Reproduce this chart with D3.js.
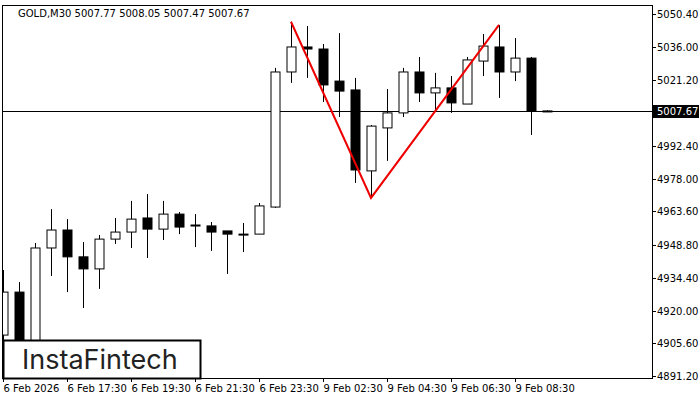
<!DOCTYPE html><html><head><meta charset="utf-8"><script src="https://cdn.jsdelivr.net/npm/d3@7"></script>
<style>body{margin:0;background:#fff}</style></head><body><svg id="c" width="700" height="400"></svg><script>
const opens =[4909.2,4928.1,4893.8,4947.5,4955.4,4943.6,4938.3,4951.4,4954.5,4960.7,4955.8,4962.4,4957.6,4957.2,4955.0,4953.6,4953.6,4965.5,5024.9,5035.9,5035.0,5020.9,5017.0,4981.4,5000.3,5006.9,5024.9,5015.7,5017.9,5010.8,5029.7,5035.9,5024.9,5031.0,5007.77];
const highs =[4937.8,4932.5,4949.7,4964.6,4960.2,4950.1,4953.2,4960.7,4968.2,4971.2,4968.2,4963.3,4962.4,4958.9,4955.0,4958.5,4967.3,5026.7,5047.0,5045.1,5037.2,5042.0,5022.3,5001.6,5017.4,5026.7,5031.5,5024.5,5023.1,5031.5,5041.6,5045.6,5039.8,5031.5,5008.05];
const lows  =[4907.0,4890.3,4890.3,4935.2,4928.1,4921.1,4929.5,4949.3,4947.5,4943.1,4951.0,4953.6,4947.9,4946.2,4936.1,4945.7,4953.6,4965.1,5020.1,5022.3,5011.7,5005.1,4976.1,4969.5,4985.8,5005.1,5011.7,5008.2,5006.9,5010.8,5023.1,5013.5,5020.9,4997.2,5007.47];
const closes=[4928.1,4893.8,4947.5,4955.4,4943.6,4938.3,4951.4,4954.5,4960.2,4955.8,4962.4,4956.7,4957.6,4954.5,4953.6,4953.6,4966.0,5024.9,5035.9,5035.0,5019.2,5016.5,4981.8,5001.1,5006.9,5024.9,5015.7,5017.9,5011.3,5030.2,5036.3,5024.9,5031.0,5007.7,5007.67];
const yTicks=[5050.40,5036.00,5021.20,4992.40,4978.00,4963.60,4948.80,4934.40,4920.00,4905.60,4891.20];
const xLabels=[[0,"6 Feb 2026"],[4,"6 Feb 17:30"],[8,"6 Feb 19:30"],[12,"6 Feb 21:30"],[16,"6 Feb 23:30"],[20,"9 Feb 02:30"],[24,"9 Feb 04:30"],[28,"9 Feb 06:30"],[32,"9 Feb 08:30"]];
const pattern=[[18,5047.0],[23,4969.5],[31,5045.6]];
const current=5007.67;
const svg=d3.select("#c");
const L=2,R=652,T=5,B=378;
const x=d3.scaleLinear().domain([0,1]).range([3,19]);
const y=d3.scaleLinear().domain([4891.2,5050.4]).range([376,14]);
const g=svg.append("g");
const defs=svg.append("defs");defs.append("clipPath").attr("id","cp").append("rect").attr("x",L).attr("y",T).attr("width",R-L).attr("height",B-T);
const pg=svg.append("g").attr("clip-path","url(#cp)");
pg.append("line").attr("x1",L).attr("x2",R).attr("y1",Math.round(y(current))+0.5).attr("y2",Math.round(y(current))+0.5).attr("stroke","#000");
opens.forEach((o,i)=>{
 const cx=Math.round(x(i))+0.5,c=closes[i];
 pg.append("line").attr("x1",cx).attr("x2",cx).attr("y1",y(highs[i])).attr("y2",y(lows[i])).attr("stroke","#000");
 const top=y(Math.max(o,c)),bot=y(Math.min(o,c));
 pg.append("rect").attr("x",cx-4.5).attr("y",top).attr("width",9).attr("height",Math.max(bot-top,1)).attr("fill",c<o?"#000":"#fff").attr("stroke","#000");
});
pg.append("path").attr("d",d3.line().x(d=>x(d[0])).y(d=>y(d[1]))(pattern)).attr("fill","none").attr("stroke","#e00").attr("stroke-width",2);
svg.append("rect").attr("x",L+0.5).attr("y",T+0.5).attr("width",R-L).attr("height",B-T).attr("fill","none").attr("stroke","#000");
const f="font-family:'DejaVu Sans',sans-serif;font-size:10px";
yTicks.forEach(v=>{const yy=Math.round(y(v))+0.5;
 svg.append("line").attr("x1",R).attr("x2",R+4).attr("y1",yy).attr("y2",yy).attr("stroke","#000");
 svg.append("text").attr("x",657).attr("y",yy+3.5).attr("style",f).text(v.toFixed(2));});
const cy=Math.round(y(current));
svg.append("rect").attr("x",R+1).attr("y",cy-6).attr("width",46).attr("height",13).attr("fill","#000");
svg.append("text").attr("x",657).attr("y",cy+4).attr("style",f).attr("fill","#fff").text(current.toFixed(2));
xLabels.forEach(([i,t])=>{const xx=Math.round(x(i))+0.5;
 svg.append("line").attr("x1",xx).attr("x2",xx).attr("y1",B).attr("y2",B+4).attr("stroke","#000");
 svg.append("text").attr("x",xx).attr("y",392).attr("style",f).text(t);});
svg.append("text").attr("x",18).attr("y",17).attr("style",f).text("GOLD,M30  5007.77 5008.05 5007.47 5007.67");
svg.append("rect").attr("x",3.5).attr("y",340.5).attr("width",197).attr("height",38).attr("fill","#fff").attr("stroke","#000").attr("stroke-width",2);
svg.append("text").attr("x",22).attr("y",369).attr("style","font-family:Inter,sans-serif;font-size:27px;fill:#222").text("InstaFintech");
</script></body></html>
